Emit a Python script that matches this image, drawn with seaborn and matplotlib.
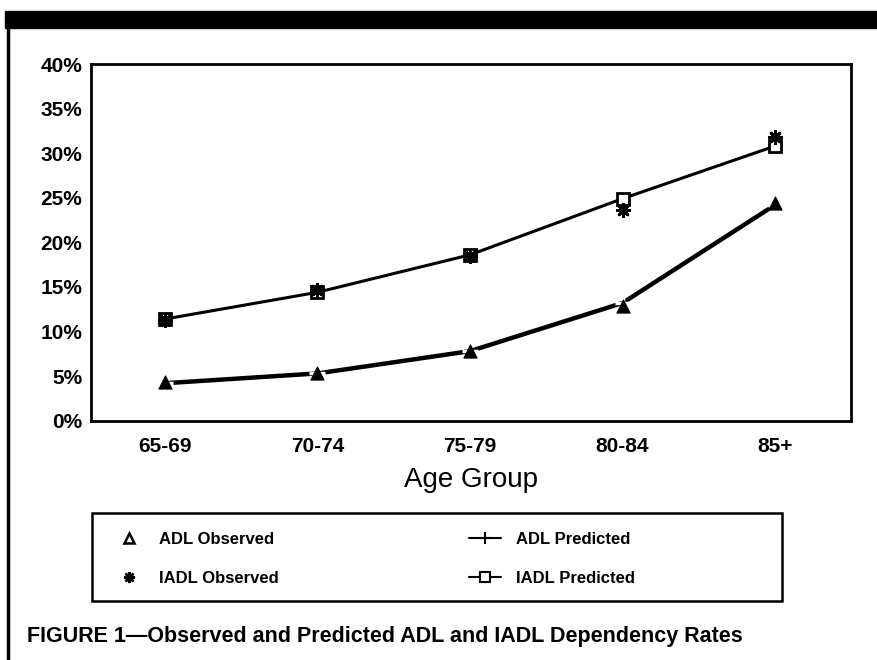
import numpy as np
import pandas as pd
import matplotlib
matplotlib.use("Agg")
import matplotlib.pyplot as plt
import seaborn as sns
from matplotlib.lines import Line2D

# Datos
grupos = ["65-69", "70-74", "75-79", "80-84", "85+"]
adl_obs = [4.3, 5.4, 7.8, 12.9, 24.4]
adl_pred = [4.2, 5.3, 7.8, 13.2, 24.2]
iadl_obs = [11.3, 14.7, 18.5, 23.6, 31.8]
iadl_pred = [11.4, 14.4, 18.6, 24.9, 30.8]

sns.set_style("white")
plt.rcParams["font.family"] = ["Liberation Sans", "DejaVu Sans"]
plt.rcParams["text.color"] = "black"
plt.rcParams["axes.labelcolor"] = "black"

pos = np.arange(len(grupos))
df_pred = pd.DataFrame({
    "pos": np.concatenate([pos, pos]),
    "valor": adl_pred + iadl_pred,
    "serie": ["ADL Predicted"] * 5 + ["IADL Predicted"] * 5,
})

fig = plt.figure(figsize=(8.77, 6.6), dpi=100)
ax = fig.add_axes([0.1034, 0.3626, 0.8666, 0.5404])

# Lineas predichas
sns.lineplot(data=df_pred[df_pred["serie"] == "ADL Predicted"], x="pos", y="valor",
             color="black", linewidth=3.2, marker="+", markersize=11,
             markeredgewidth=2.5, ax=ax, legend=False)
sns.lineplot(data=df_pred[df_pred["serie"] == "IADL Predicted"], x="pos", y="valor",
             color="black", linewidth=2.2, marker="s", markersize=8,
             markerfacecolor="white", markeredgecolor="black",
             markeredgewidth=2, ax=ax, legend=False)

# Puntos observados
sns.scatterplot(x=pos, y=adl_obs, marker="^", s=90, color="black",
                edgecolor="black", ax=ax, zorder=5)
sns.scatterplot(x=pos, y=iadl_obs, marker=(8, 2, 0), s=80, color="black",
                linewidth=2, ax=ax, zorder=5)

ax.set_xlim(-0.487, 4.496)
ax.set_ylim(0, 40)
ax.set_xticks(pos)
ax.set_xticklabels(grupos, fontsize=15, fontweight="bold")
ax.set_yticks(np.arange(0, 41, 5))
ax.set_yticklabels([f"{v}%" for v in range(0, 41, 5)], fontsize=15, fontweight="bold")
ax.tick_params(direction="in", length=5, width=1.5, pad=6, colors="black")
ax.tick_params(axis="x", pad=12)
for s in ax.spines.values():
    s.set_visible(True)
    s.set_color("black")
    s.set_linewidth(2)
ax.set_xlabel("Age Group", fontsize=20, labelpad=8)
ax.set_ylabel("")

# Leyenda
handles = [
    Line2D([], [], color="black", marker="^", markerfacecolor="white",
           markeredgewidth=1.8, markersize=7, linestyle="none"),
    Line2D([], [], color="black", marker=(8, 2, 0), markersize=8,
           markeredgewidth=1.8, linestyle="none"),
    Line2D([], [], color="black", marker="+", markersize=9, markeredgewidth=1.5,
           linewidth=1.5),
    Line2D([], [], color="black", marker="s", markersize=7, markerfacecolor="white",
           markeredgewidth=1.5, linewidth=1.5),
]
etiquetas = ["ADL Observed", "IADL Observed", "ADL Predicted", "IADL Predicted"]
leg = fig.legend(handles, etiquetas, ncol=2, loc="center left",
                 bbox_to_anchor=(0.121, 0.153), frameon=False,
                 prop={"weight": "bold", "size": 12},
                 labelspacing=1.45, handlelength=1.9,
                 handletextpad=0.9, columnspacing=11.4, borderaxespad=0)
fig.add_artist(plt.Rectangle((0.105, 0.0894), 0.787, 0.1333, transform=fig.transFigure,
                             facecolor="none", edgecolor="black", linewidth=1.8))

# Marco de la figura
fig.add_artist(plt.Rectangle((0.006, 0.958), 0.994, 0.026, transform=fig.transFigure,
                             color="black", clip_on=False))
fig.add_artist(Line2D([0.0095, 0.0095], [0.0, 0.96], transform=fig.transFigure,
                      color="black", linewidth=2.5))

fig.text(0.031, 0.035, "FIGURE 1\u2014Observed and Predicted ADL and IADL Dependency Rates",
         fontsize=15.5, fontweight="bold", ha="left", va="center", color="black")

plt.savefig("out.png", dpi=100)
